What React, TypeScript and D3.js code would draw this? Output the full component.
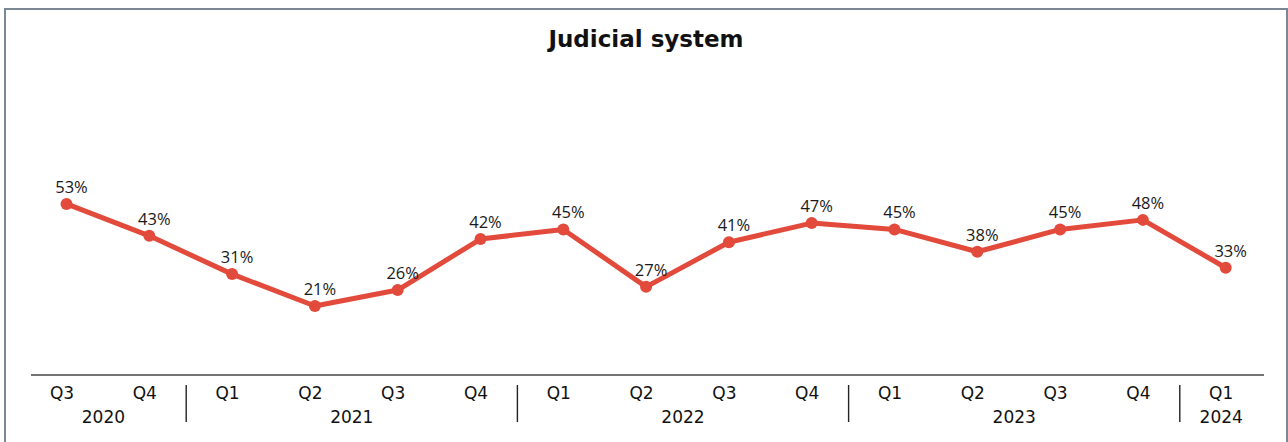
import React from "react";
import * as d3 from "d3";

const quarters = ["Q3", "Q4", "Q1", "Q2", "Q3", "Q4", "Q1", "Q2", "Q3", "Q4", "Q1", "Q2", "Q3", "Q4", "Q1"];
const years = ["2020", "2020", "2021", "2021", "2021", "2021", "2022", "2022", "2022", "2022", "2023", "2023", "2023", "2023", "2024"];
const values = [53, 43, 31, 21, 26, 42, 45, 27, 41, 47, 45, 38, 45, 48, 33];
const yearGroups = ["2020", "2021", "2022", "2023", "2024"];

const W = 1288;
const H = 442;
const RED = "#e24a3b";

export default function App() {
  const idx = values.map((_, i) => i);
  const x = d3.scaleBand<number>().domain(idx).range([20.6, 1262.6]).padding(0);
  const y = d3.scaleLinear().domain([0, 100]).range([373, 54]);
  const bw = x.bandwidth();
  const px = (i: number) => (x(i) as number) + bw / 2 + 4.5;

  const line = d3
    .line<number>()
    .x((_, i) => px(i))
    .y((v) => y(v));

  const groups = yearGroups.map((yr) => {
    const ids = idx.filter((i) => years[i] === yr);
    const start = x(ids[0]) as number;
    const end = (x(ids[ids.length - 1]) as number) + bw;
    return { yr, start, end, first: ids[0] };
  });

  return (
    <svg
      width={W}
      height={H}
      style={{ position: "absolute", left: 0, top: 0, background: "#fff" }}
    >
      <rect x={5} y={9} width={1282} height={460} fill="#fff" stroke="#7b8794" strokeWidth={2} />
      <text
        x={646}
        y={47}
        textAnchor="middle"
        fontFamily="DejaVu Sans"
        fontWeight="bold"
        fontSize={23}
        fill="#111"
      >
        Judicial system
      </text>
      <line x1={31} x2={1264} y1={375} y2={375} stroke="#444" strokeWidth={1.4} />
      {quarters.map((q, i) => (
        <text
          key={"q" + i}
          x={(x(i) as number) + bw / 2}
          y={399}
          textAnchor="middle"
          fontFamily="DejaVu Sans"
          fontSize={17}
          fill="#111"
        >
          {q}
        </text>
      ))}
      {groups.map((g) => (
        <text
          key={g.yr}
          x={(g.start + g.end) / 2}
          y={423}
          textAnchor="middle"
          fontFamily="DejaVu Sans"
          fontSize={17}
          fill="#111"
        >
          {g.yr}
        </text>
      ))}
      {groups.slice(1).map((g) => (
        <line
          key={"s" + g.yr}
          x1={g.start}
          x2={g.start}
          y1={385}
          y2={422}
          stroke="#222"
          strokeWidth={1.4}
        />
      ))}
      <path d={line(values) || ""} fill="none" stroke={RED} strokeWidth={5} strokeLinejoin="round" />
      {values.map((v, i) => (
        <circle key={"c" + i} cx={px(i)} cy={y(v)} r={6} fill={RED} />
      ))}
      {values.map((v, i) => (
        <text
          key={"l" + i}
          x={px(i) + 5}
          y={y(v) - 11}
          textAnchor="middle"
          fontFamily="Open Sans"
          fontSize={16.5}
          fill="#1a1a1a"
        >
          {v}%
        </text>
      ))}
    </svg>
  );
}
